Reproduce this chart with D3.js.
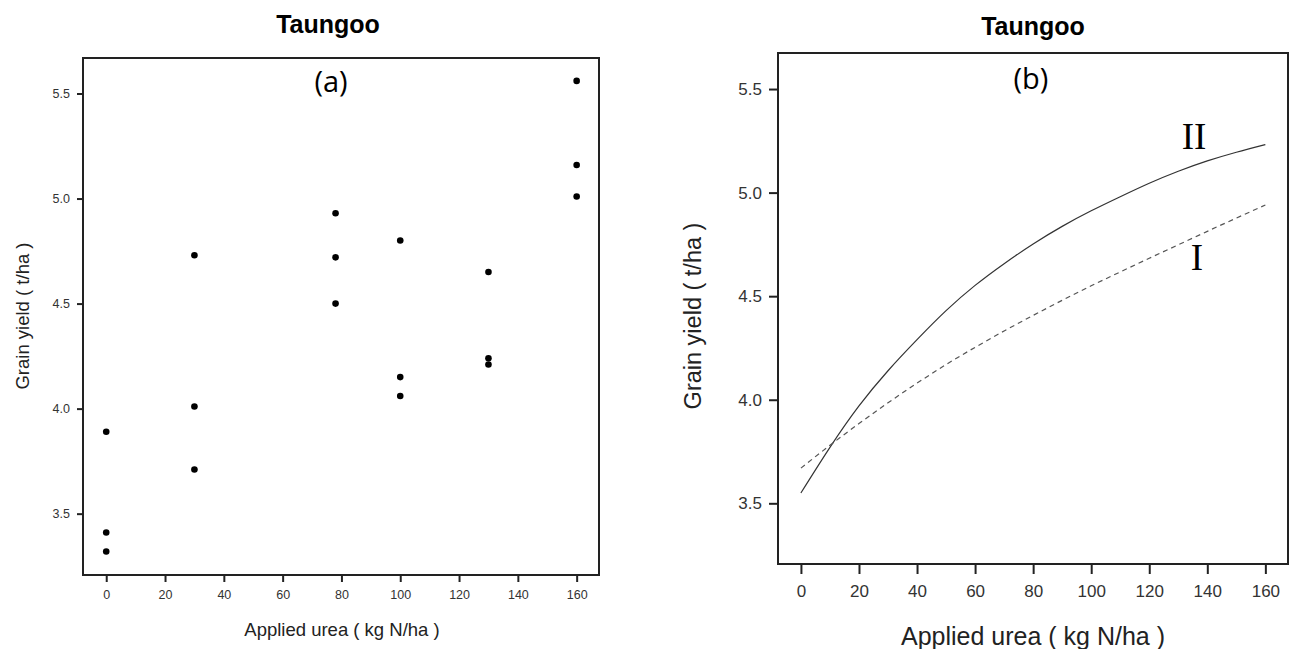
<!DOCTYPE html>
<html>
<head>
<meta charset="utf-8">
<script src="https://cdn.jsdelivr.net/npm/d3@7"></script>
<style>
  body { margin: 0; background: #fff; }
  svg { display: block; font-family: "Liberation Sans", Arial, sans-serif; }
</style>
</head>
<body>
<svg id="chart" width="1290" height="649"></svg>
<script>
// panel (a): observed yields
const ureaLevels = [0, 0, 0, 30, 30, 30, 78, 78, 78, 100, 100, 100, 130, 130, 130, 160, 160, 160];
const grainYield = [3.89, 3.41, 3.32, 4.73, 4.01, 3.71, 4.93, 4.72, 4.50, 4.80, 4.15, 4.06, 4.65, 4.24, 4.21, 5.56, 5.16, 5.01];

// panel (b): fitted response curves
const curveX = [0, 10, 20, 30, 40, 50, 60, 70, 80, 90, 100, 110, 120, 130, 140, 150, 160];
const curveII = [3.55, 3.77, 3.97, 4.14, 4.29, 4.43, 4.552, 4.657, 4.752, 4.837, 4.912, 4.98, 5.045, 5.103, 5.153, 5.195, 5.232];
const curveI = [3.67, 3.78, 3.885, 3.985, 4.08, 4.17, 4.253, 4.332, 4.407, 4.48, 4.55, 4.617, 4.683, 4.748, 4.813, 4.877, 4.94];

const xTicks = [0, 20, 40, 60, 80, 100, 120, 140, 160];
const yTicks = [3.5, 4.0, 4.5, 5.0, 5.5];
const titles = ["Taungoo", "Taungoo"];
const panelTags = ["(a)", "(b)"];
const curveNames = ["II", "I"];
const xTitle = "Applied urea ( kg N/ha )";
const yTitle = "Grain yield ( t/ha )";

const svg = d3.select("#chart");

function drawFrame(x, y, o) {
  const g = svg.append("g");

  g.append("g")
    .attr("transform", `translate(0,${y.range()[0]})`)
    .call(d3.axisBottom(x).tickValues(xTicks).tickSize(o.xTickLen).tickPadding(o.xPad))
    .call(a => a.select(".domain").remove())
    .call(a => a.selectAll("line").attr("stroke", "#222").attr("stroke-width", 2))
    .call(a => a.selectAll("text").attr("fill", "#333").style("font-size", o.tickFont + "px").style("font-family", "Liberation Sans, Arial"));

  g.append("g")
    .attr("transform", `translate(${x.range()[0]},0)`)
    .call(d3.axisLeft(y).tickValues(yTicks).tickFormat(d3.format(".1f")).tickSize(o.yTickLen).tickPadding(o.yPad))
    .call(a => a.select(".domain").remove())
    .call(a => a.selectAll("line").attr("stroke", "#222").attr("stroke-width", 2))
    .call(a => a.selectAll("text").attr("fill", "#333").style("font-size", o.tickFont + "px").style("font-family", "Liberation Sans, Arial"));

  g.append("rect")
    .attr("x", x.range()[0])
    .attr("y", y.range()[1])
    .attr("width", x.range()[1] - x.range()[0])
    .attr("height", y.range()[0] - y.range()[1])
    .attr("fill", "none")
    .attr("stroke", "#222")
    .attr("stroke-width", 2);

  g.append("text")
    .attr("x", o.titleX).attr("y", o.titleY)
    .attr("text-anchor", "middle")
    .style("font-weight", "bold").style("font-size", "25px")
    .text(o.title);

  g.append("text")
    .attr("x", o.tagX).attr("y", o.tagY)
    .attr("text-anchor", "middle")
    .style("font-family", "Open Sans, sans-serif").style("font-size", "29px")
    .text(o.tag);

  g.append("text")
    .attr("x", o.xTitleX).attr("y", o.xTitleY)
    .attr("text-anchor", "middle")
    .attr("fill", "#222")
    .style("font-size", o.axisFont + "px")
    .text(xTitle);

  g.append("text")
    .attr("transform", `translate(${o.yTitleX},${o.yTitleY}) rotate(-90)`)
    .attr("dy", "0.35em")
    .attr("text-anchor", "middle")
    .attr("fill", "#222")
    .style("font-size", o.axisFont2 + "px")
    .text(yTitle);
}

// ---- panel (a)
const xa = d3.scaleLinear().domain([-7.9, 167.6]).range([83, 599]);
const ya = d3.scaleLinear().domain([3.208, 5.669]).range([575, 58]);

drawFrame(xa, ya, {
  xTickLen: 7, xPad: 8, yTickLen: 6, yPad: 7, tickFont: 12.5,
  title: titles[0], titleX: 328, titleY: 33,
  tag: panelTags[0], tagX: 331, tagY: 92,
  xTitleX: 342, xTitleY: 636, axisFont: 18.5,
  yTitleX: 23, yTitleY: 316, axisFont2: 18.5
});

svg.append("g").selectAll("circle")
  .data(ureaLevels)
  .join("circle")
  .attr("cx", d => xa(d))
  .attr("cy", (d, i) => ya(grainYield[i]))
  .attr("r", 3.3)
  .attr("fill", "#000");

// ---- panel (b)
const xb = d3.scaleLinear().domain([-7.9, 167.8]).range([778, 1288]);
const yb = d3.scaleLinear().domain([3.207, 5.674]).range([564, 53]);

drawFrame(xb, yb, {
  xTickLen: 10, xPad: 11, yTickLen: 9, yPad: 7, tickFont: 17,
  title: titles[1], titleX: 1033, titleY: 35,
  tag: panelTags[1], tagX: 1031, tagY: 89,
  xTitleX: 1033, xTitleY: 645, axisFont: 25,
  yTitleX: 693, yTitleY: 316, axisFont2: 23.5
});

const line = (vals) => d3.line()
  .x((d, i) => xb(curveX[i]))
  .y(d => yb(d))
  .curve(d3.curveNatural)(vals);

svg.append("path")
  .attr("d", line(curveII))
  .attr("fill", "none")
  .attr("stroke", "#333")
  .attr("stroke-width", 1.2);

svg.append("path")
  .attr("d", line(curveI))
  .attr("fill", "none")
  .attr("stroke", "#555")
  .attr("stroke-width", 1.2)
  .attr("stroke-dasharray", "5,4");

// curve labels, placed in data units
const labelPos = [[135.4, 5.212], [136.4, 4.627]];
svg.append("g").selectAll("text")
  .data(curveNames)
  .join("text")
  .attr("x", (d, i) => xb(labelPos[i][0]))
  .attr("y", (d, i) => yb(labelPos[i][1]))
  .attr("text-anchor", "middle")
  .style("font-family", "Liberation Serif, Times New Roman, serif")
  .style("font-size", "37px")
  .text(d => d);
</script>
</body>
</html>
